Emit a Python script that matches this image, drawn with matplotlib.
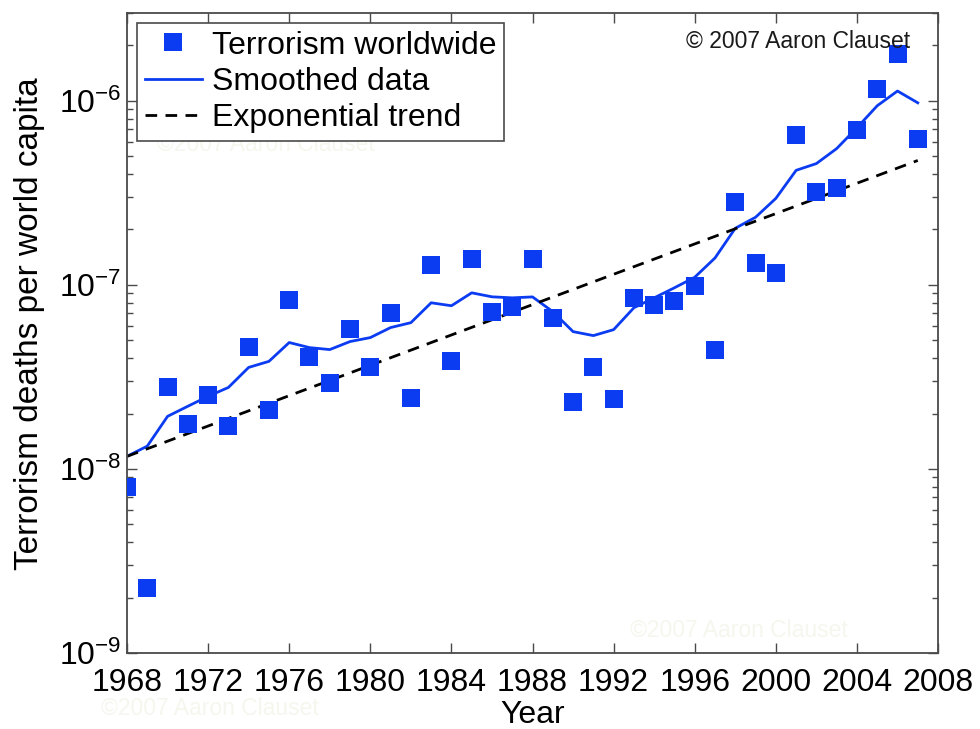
import matplotlib
matplotlib.use("Agg")
import matplotlib.pyplot as plt
from matplotlib.ticker import LogLocator, FixedLocator

plt.rcParams['font.family'] = ['Liberation Sans', 'DejaVu Sans']
plt.rcParams['mathtext.fontset'] = 'custom'
plt.rcParams['mathtext.rm'] = 'Liberation Sans'
plt.rcParams['mathtext.it'] = 'Liberation Sans:italic'
plt.rcParams['mathtext.bf'] = 'Liberation Sans:bold'

# Annual terrorism deaths per world capita
years = list(range(1968, 2008))
deaths_per_capita = [
    8.0e-9, 2.24e-9, 2.77e-8, 1.75e-8, 2.51e-8, 1.71e-8, 4.62e-8, 2.08e-8,
    8.3e-8, 4.03e-8, 2.92e-8, 5.78e-8, 3.56e-8, 7.06e-8, 2.42e-8, 1.28e-7,
    3.84e-8, 1.38e-7, 7.15e-8, 7.6e-8, 1.38e-7, 6.64e-8, 2.30e-8, 3.6e-8,
    2.39e-8, 8.5e-8, 7.8e-8, 8.2e-8, 9.9e-8, 4.4e-8, 2.81e-7, 1.31e-7,
    1.16e-7, 6.55e-7, 3.18e-7, 3.34e-7, 6.97e-7, 1.16e-6, 1.79e-6, 6.23e-7,
]
smoothed = [
    1.17e-8, 1.33e-8, 1.93e-8, 2.19e-8, 2.48e-8, 2.77e-8, 3.56e-8, 3.84e-8,
    4.86e-8, 4.56e-8, 4.45e-8, 4.92e-8, 5.17e-8, 5.86e-8, 6.23e-8, 7.99e-8,
    7.70e-8, 9.05e-8, 8.61e-8, 8.5e-8, 8.6e-8, 7.15e-8, 5.57e-8, 5.30e-8,
    5.71e-8, 7.51e-8, 8.5e-8, 9.64e-8, 1.10e-7, 1.40e-7, 2.03e-7, 2.33e-7,
    2.95e-7, 4.19e-7, 4.56e-7, 5.5e-7, 7.14e-7, 9.4e-7, 1.13e-6, 9.75e-7,
]
# Exponential trend: straight line in log space between its end points
trend_years = [1968, 2007]
trend_values = [1.17e-8, 4.74e-7]

x_ticks = list(range(1968, 2009, 4))

blue = '#0b3cf2'
frame = '#4a4a4a'

fig = plt.figure(figsize=(9.8, 7.29), dpi=100)
ax = fig.add_axes([0.1296, 0.1043, 0.8276, 0.8779])

ax.plot(years, deaths_per_capita, linestyle='none', marker='s', markersize=12.5,
        color=blue, markeredgewidth=0, label='Terrorism worldwide', zorder=3)
ax.plot(years, smoothed, color=blue, linewidth=2.0, label='Smoothed data', zorder=2)
ax.plot(trend_years, trend_values, color='black', linewidth=2.0,
        linestyle=(0, (4.2, 3.0)), label='Exponential trend', zorder=2)

ax.set_yscale('log')
ax.set_xlim(1968, 2008)
ax.set_ylim(1e-9, 3e-6)
ax.xaxis.set_major_locator(FixedLocator(x_ticks))
ax.set_xticklabels([str(t) for t in x_ticks])
ax.yaxis.set_major_locator(LogLocator(base=10))
ax.yaxis.set_minor_locator(LogLocator(base=10, subs=range(2, 10)))

for s in ax.spines.values():
    s.set_color(frame)
    s.set_linewidth(1.3)
ax.tick_params(axis='both', which='both', direction='in', top=True, right=True,
               color=frame, width=1.0)
ax.tick_params(axis='both', which='major', length=7, labelsize=23, pad=4)
ax.tick_params(axis='y', which='minor', length=4)
ax.tick_params(axis='x', which='major', pad=11)

ax.set_xlabel('Year', fontsize=23, labelpad=1.5)
ax.set_ylabel('Terrorism deaths per world capita', fontsize=24, labelpad=10,
              y=0.515)

leg = ax.legend(loc='upper left', fontsize=23, fancybox=False, framealpha=1,
                edgecolor=frame, handlelength=1.8, handletextpad=0.3,
                labelspacing=0.2, borderpad=0.25, borderaxespad=0.3)
leg.get_frame().set_linewidth(1.2)

ax.text(0.965, 0.955, '\u00a9 2007 Aaron Clauset', transform=ax.transAxes,
        ha='right', va='center', fontsize=16.5, color='#1a1a1a')

# Faint background watermarks
wm = '#f5f7ee'
ax.text(0.037, 0.795, '\u00a92007 Aaron Clauset', transform=ax.transAxes,
        ha='left', va='center', fontsize=16.5, color=wm, zorder=0)
ax.text(0.62, 0.035, '\u00a92007 Aaron Clauset', transform=ax.transAxes,
        ha='left', va='center', fontsize=16.5, color=wm, zorder=0)
fig.text(0.103, 0.028, '\u00a92007 Aaron Clauset', ha='left', va='center',
         fontsize=16.5, color=wm, zorder=0)

fig.savefig('out.png', dpi=100, facecolor='white')
